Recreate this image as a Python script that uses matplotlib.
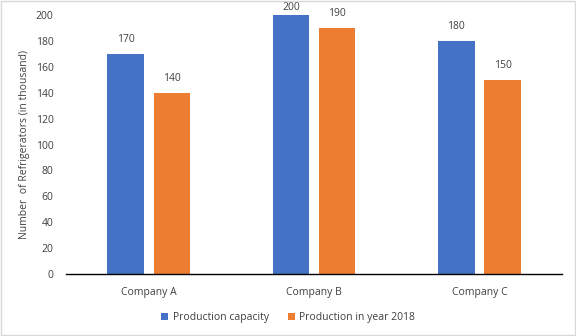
import numpy as np
import matplotlib.pyplot as plt
from matplotlib.patches import Rectangle

plt.rcParams['font.family'] = ['Open Sans', 'DejaVu Sans']

companies = ["Company A", "Company B", "Company C"]
capacity = [170, 200, 180]
production_2018 = [140, 190, 150]
y_ticks = [0, 20, 40, 60, 80, 100, 120, 140, 160, 180, 200]

blue = "#4472C4"
orange = "#ED7D31"
text_col = "#404040"

fig = plt.figure(figsize=(5.76, 3.36), dpi=100)
ax = fig.add_axes([0.1146, 0.1845, 0.8614, 0.7705])

x = np.arange(len(companies))
w = 0.22
off = 0.14

b1 = ax.bar(x - off, capacity, w, color=blue, label="Production capacity")
b2 = ax.bar(x + off, production_2018, w, color=orange, label="Production in year 2018")

for bars in (b1, b2):
    for r in bars:
        h = r.get_height()
        # the 200 label sits tight to the top edge like in Excel
        dy = 1.5 if h >= 200 else 6.5
        ax.annotate(f"{h:.0f}",
                    (r.get_x() + r.get_width() / 2, h),
                    xytext=(0, dy), textcoords="offset points",
                    ha="center", va="bottom", fontsize=7.5, color=text_col,
                    annotation_clip=False)

ax.set_xlim(-0.5, 2.5)
ax.set_ylim(0, 200)
ax.set_yticks(y_ticks)
ax.set_xticks(x)
ax.set_xticklabels(companies)
ax.tick_params(axis="both", length=0, labelsize=7.5, labelcolor=text_col)
ax.tick_params(axis="x", pad=9)
ax.tick_params(axis="y", pad=9)

for s in ["top", "right", "left"]:
    ax.spines[s].set_visible(False)
ax.spines["bottom"].set_color("black")
ax.spines["bottom"].set_linewidth(1.0)

ax.set_ylabel("Number  of Refrigerators (in thousand)", fontsize=7.5, color=text_col, labelpad=4)

fig.legend(handles=[b1, b2], loc="center", bbox_to_anchor=(0.5, 0.054), ncol=2,
           frameon=False, fontsize=7.5, handlelength=0.7, handleheight=0.7,
           columnspacing=1.8, handletextpad=0.4, labelcolor=text_col)

fig.patches.append(Rectangle((0.002, 0.003), 0.996, 0.994, transform=fig.transFigure,
                             fill=False, edgecolor="#D9D9D9", linewidth=1.0))

fig.savefig("out.png", dpi=100)
